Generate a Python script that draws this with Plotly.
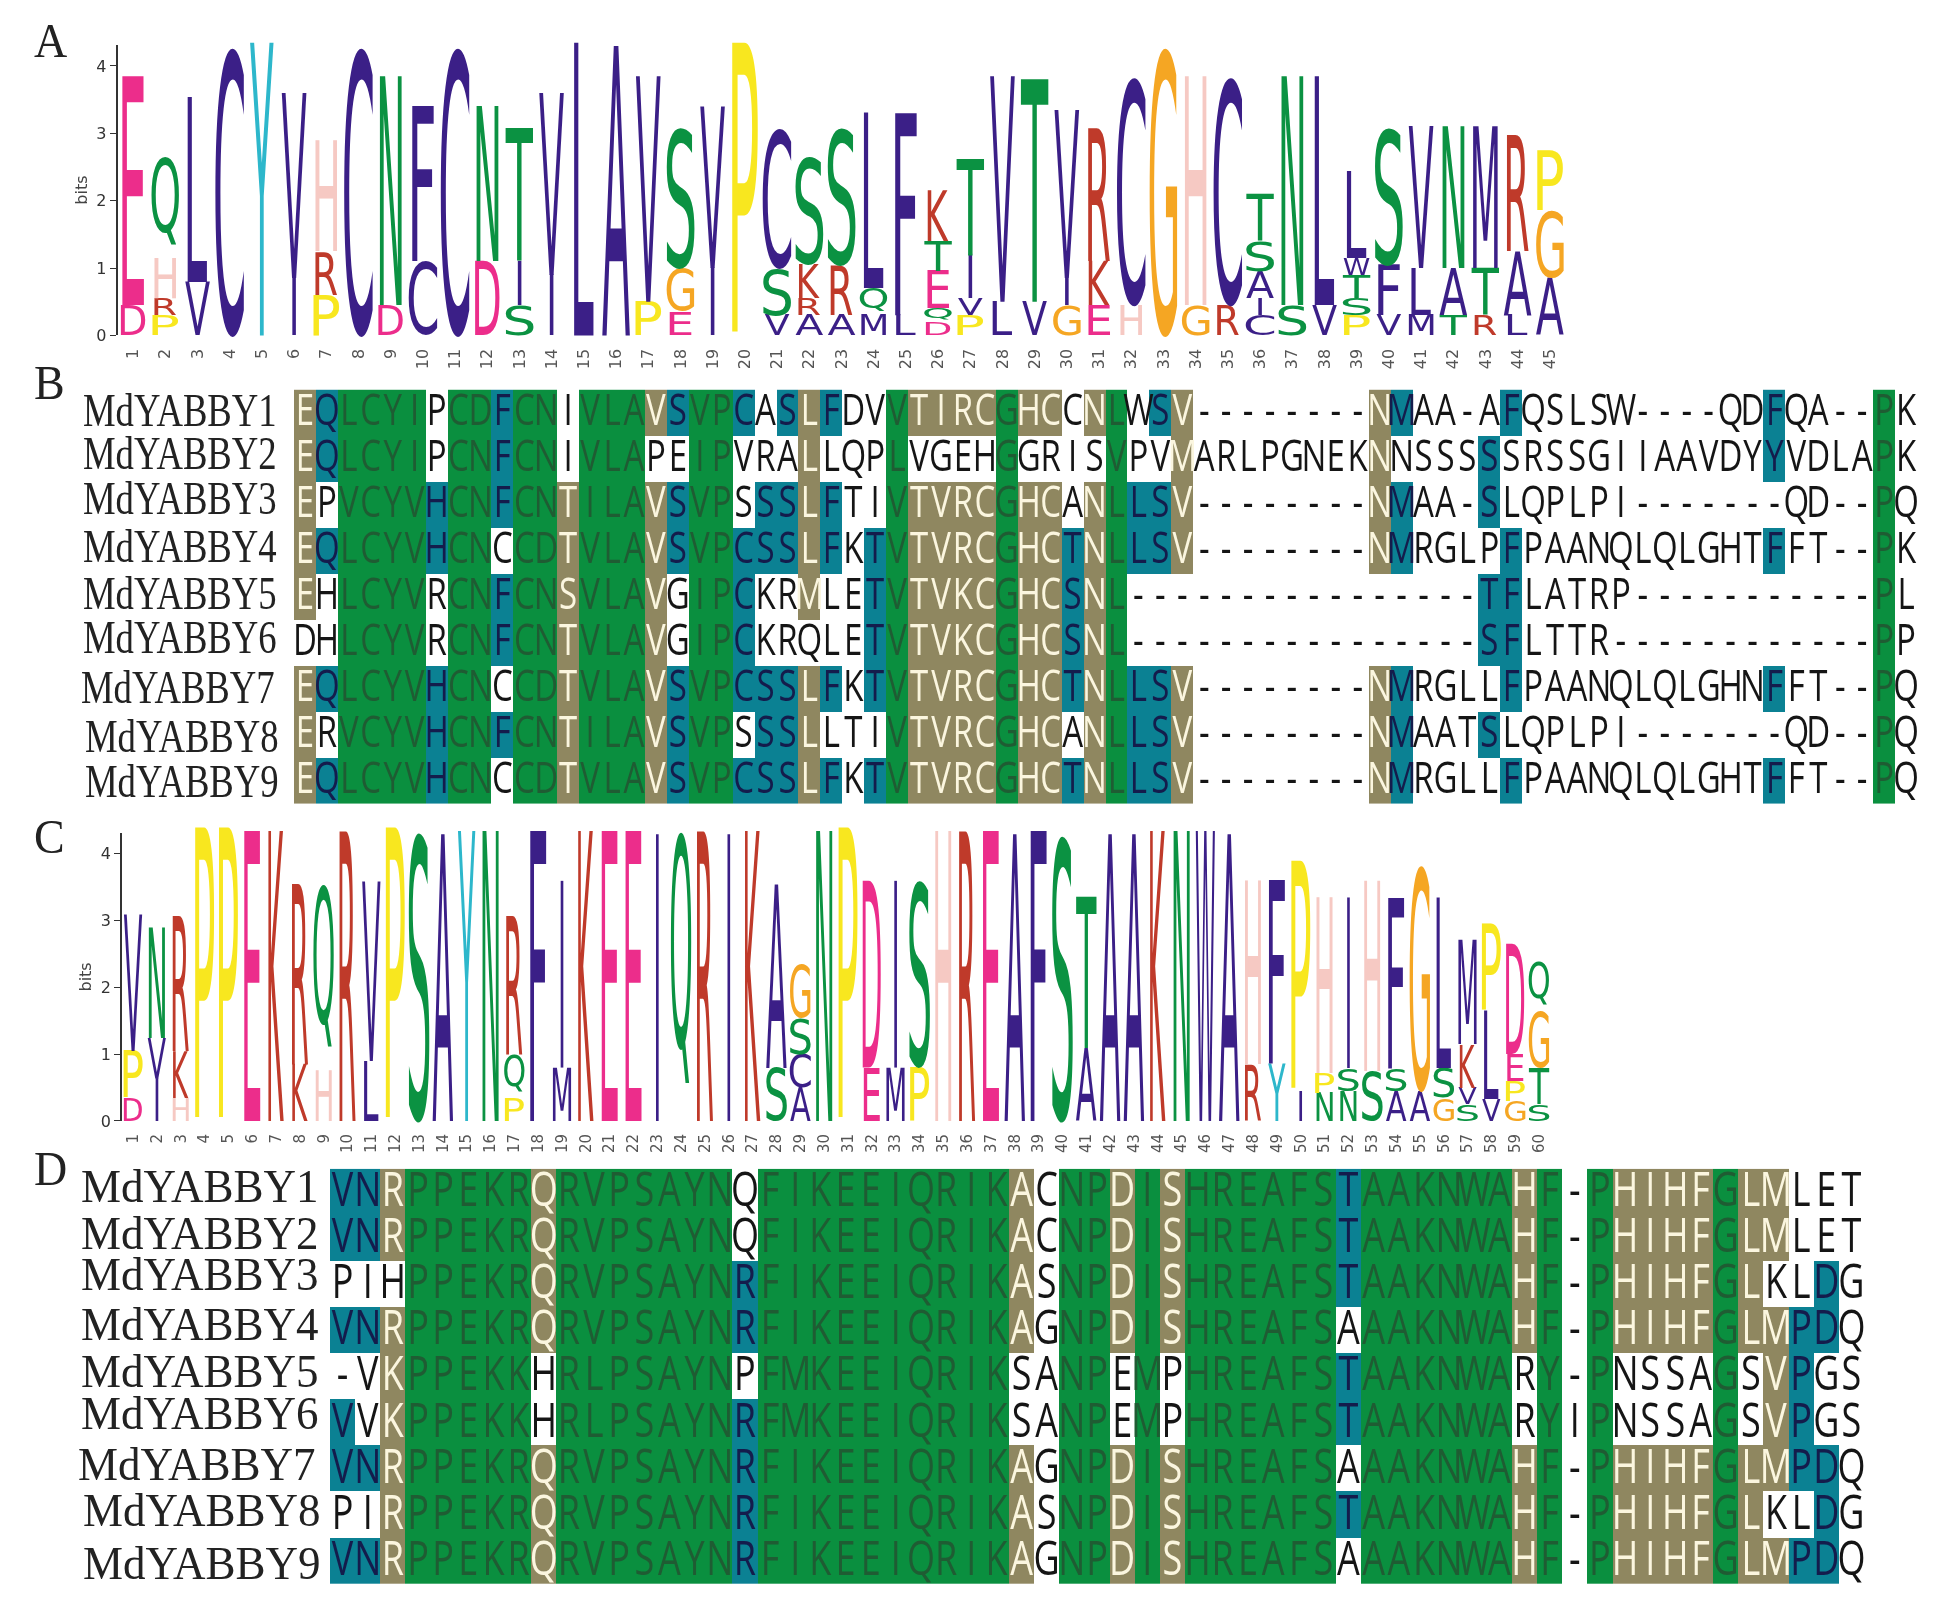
import plotly.graph_objects as go

W, H = 1938, 1611

LOGO_A = [
 [("D",.45),("E",3.4)], [("P",.3),("R",.25),("H",.6),("Q",1.5)], [("V",.8),("L",2.75)], [("C",4.3)], [("Y",4.35)],
 [("I",.85),("V",2.75)], [("P",.6),("R",.65),("H",1.65)], [("C",4.3)], [("D",.45),("N",3.4)], [("C",1.1),("F",2.3)],
 [("C",4.3)], [("D",1.1),("N",2.3)], [("S",.45),("I",.65),("T",2.0)], [("I",.9),("V",2.7)], [("L",4.35)],
 [("A",4.3)], [("P",.5),("V",3.35)], [("E",.35),("G",.65),("S",2.1)], [("I",1.0),("V",2.4)], [("P",4.35)],
 [("V",.3),("S",.7),("C",2.1)], [("A",.3),("R",.25),("K",.5),("S",1.6)], [("A",.3),("R",.75),("S",2.05)],
 [("M",.3),("Q",.4),("L",2.6)], [("L",.3),("F",3.0)], [("D",.2),("Q",.2),("E",.55),("T",.45),("K",.75)],
 [("P",.3),("V",.25),("I",.65),("T",1.45)], [("L",.5),("V",3.35)], [("V",.5),("T",3.35)], [("G",.45),("I",.4),("V",2.5)],
 [("E",.45),("K",.65),("R",2.0)], [("H",.45),("C",3.4)], [("G",4.3)], [("G",.45),("H",3.4)], [("R",.45),("C",3.4)],
 [("C",.3),("I",.25),("A",.4),("S",.45),("T",.7)], [("S",.45),("N",3.4)], [("V",.45),("L",3.4)],
 [("P",.3),("S",.25),("T",.35),("W",.25),("L",1.3)], [("V",.3),("F",.75),("S",2.05)], [("M",.3),("L",.7),("V",2.1)],
 [("T",.3),("A",.7),("N",2.1)], [("R",.3),("T",.7),("M",2.1)], [("L",.3),("A",.95),("R",1.75)], [("A",.85),("G",1.0),("P",.9)],
]
LOGO_C = [
 [("D",.35),("P",.7),("V",2.05)], [("I",.65),("V",.6),("N",1.65)], [("H",.35),("K",.7),("R",2.05)], [("P",4.4)], [("P",4.4)],
 [("E",4.35)], [("K",4.35)], [("K",.85),("R",2.75)], [("H",.75),("Q",2.8)], [("R",4.4)],
 [("L",.9),("V",2.7)], [("P",4.4)], [("S",4.35)], [("A",4.3)], [("Y",4.35)],
 [("N",4.35)], [("P",.35),("Q",.65),("R",2.1)], [("F",4.35)], [("M",.8),("I",2.8)], [("K",4.35)],
 [("E",4.35)], [("E",4.35)], [("I",4.3)], [("Q",4.35)], [("R",4.4)],
 [("I",4.3)], [("K",4.35)], [("S",.8),("A",2.75)], [("A",.5),("C",.5),("S",.55),("G",.8)], [("N",4.35)],
 [("P",4.4)], [("E",.8),("D",2.8)], [("M",.8),("I",2.8)], [("P",.8),("S",2.8)], [("H",4.35)],
 [("R",4.4)], [("E",4.35)], [("A",4.3)], [("F",4.35)], [("S",4.3)],
 [("A",1.1),("T",2.3)], [("A",4.3)], [("A",4.3)], [("K",4.35)], [("N",4.35)],
 [("W",4.35)], [("A",4.3)], [("R",.85),("H",2.75)], [("Y",.85),("F",2.75)], [("I",.45),("P",3.45)],
 [("N",.42),("P",.3),("H",2.63)], [("N",.45),("S",.35),("I",2.55)], [("S",.75),("H",2.85)], [("A",.45),("S",.35),("F",2.55)], [("A",.45),("G",3.4)],
 [("G",.35),("S",.45),("L",2.55)], [("S",.25),("V",.25),("K",.65),("M",1.55)], [("V",.33),("L",1.32),("P",1.3)],
 [("G",.3),("P",.3),("E",.4),("D",1.65)], [("S",.25),("T",.55),("G",.85),("Q",.75)],
]
LOGO_A_TICKS = list(range(1, 46))
LOGO_C_TICKS = list(range(1, 61))
BIT_TICKS = [0, 1, 2, 3, 4]

NAMES = ["MdYABBY1","MdYABBY2","MdYABBY3","MdYABBY4","MdYABBY5","MdYABBY6","MdYABBY7","MdYABBY8","MdYABBY9"]
PANELS = ["A", "B", "C", "D"]

SEQ_B = [
 "EQLCYIPCDFCNIVLAVSVPCASLFDVVTIRCGHCCNLWSV--------NMAA-AFQSLSW----QDFQA--PK",
 "EQLCYIPCNFCNIVLAPEIPVRALLQPLVGEHGGRISVPVMARLPGNEKNNSSSSSRSSGIIAAVDYYVDLAPK",
 "EPVCYVHCNFCNTILAVSVPSSSLFTIVTVRCGHCANLLSV--------NMAA-SLQPLPI-------QD--PQ",
 "EQLCYVHCNCCDTVLAVSVPCSSLFKTVTVRCGHCTNLLSV--------NMRGLPFPAANQLQLGHTFFT--PK",
 "EHLCYVRCNFCNSVLAVGIPCKRMLETVTVKCGHCSNL----------------TFLATRP-----------PL",
 "DHLCYVRCNFCNTVLAVGIPCKRQLETVTVKCGHCSNL----------------SFLTTR------------PP",
 "EQLCYVHCNCCDTVLAVSVPCSSLFKTVTVRCGHCTNLLSV--------NMRGLLFPAANQLQLGHNFFT--PQ",
 "ERVCYVHCNFCNTILAVSVPSSSLLTIVTVRCGHCANLLSV--------NMAATSLQPLPI-------QD--PQ",
 "EQLCYVHCNCCDTVLAVSVPCSSLFKTVTVRCGHCTNLLSV--------NMRGLLFPAANQLQLGHTFFT--PQ",
]
SEQ_D = [
 "VNRPPEKRQRVPSAYNQFIKEEIQRIKACNPDISHREAFSTAAKNWAHF-PHIHFGLMLET",
 "VNRPPEKRQRVPSAYNQFIKEEIQRIKACNPDISHREAFSTAAKNWAHF-PHIHFGLMLET",
 "PIHPPEKRQRVPSAYNRFIKEEIQRIKASNPDISHREAFSTAAKNWAHF-PHIHFGLKLDG",
 "VNRPPEKRQRVPSAYNRFIKEEIQRIKAGNPDISHREAFSAAAKNWAHF-PHIHFGLMPDQ",
 "-VKPPEKKHRLPSAYNPFMKEEIQRIKSANPEMPHREAFSTAAKNWARY-PNSSAGSVPGS",
 "VVKPPEKKHRLPSAYNRFMKEEIQRIKSANPEMPHREAFSTAAKNWARYIPNSSAGSVPGS",
 "VNRPPEKRQRVPSAYNRFIKEEIQRIKAGNPDISHREAFSAAAKNWAHF-PHIHFGLMPDQ",
 "PIRPPEKRQRVPSAYNRFIKEEIQRIKASNPDISHREAFSTAAKNWAHF-PHIHFGLKLDG",
 "VNRPPEKRQRVPSAYNRFIKEEIQRIKAGNPDISHREAFSAAAKNWAHF-PHIHFGLMPDQ",
]

# conservation class per alignment column, one digit per row: 0 none, 1 partial, 2 high, 3 identical
ALL = "333333333"
KH = "111100111"
SHADE_B = {1:"111110111",2:"220200202",3:ALL,4:ALL,5:ALL,6:ALL,7:"002200222",8:ALL,9:ALL,10:"222022020",11:ALL,12:ALL,
 13:"001111111",14:ALL,15:ALL,16:ALL,17:"101111111",18:"202200222",19:ALL,20:ALL,21:"200222202",22:"002200222",23:"202200222",
 24:"111110111",25:"202200202",27:"000222202",28:ALL,29:"101111111",30:"101111111",31:"101111111",32:"101111111",33:ALL,
 34:"101111111",35:"101111111",36:"000222202",37:"101111111",38:ALL,39:"002200222",40:"202200222",41:KH,50:KH,51:"202200222",
 55:"022022020",56:"200222202",68:"220200202",73:ALL}
SHADE_D = {1:"220202202",2:"220200202",3:"110111111",4:ALL,5:ALL,6:ALL,7:ALL,8:ALL,9:KH,10:ALL,11:ALL,12:ALL,13:ALL,14:ALL,15:ALL,16:ALL,
 17:"002202222",18:ALL,19:ALL,20:ALL,21:ALL,22:ALL,23:ALL,24:ALL,25:ALL,26:ALL,27:ALL,28:KH,30:ALL,31:ALL,32:KH,33:ALL,34:KH,
 35:ALL,36:ALL,37:ALL,38:ALL,39:ALL,40:ALL,41:"222022020",42:ALL,43:ALL,44:ALL,45:ALL,46:ALL,47:ALL,48:KH,49:ALL,51:ALL,
 52:KH,53:KH,54:KH,55:KH,56:ALL,57:KH,58:"110111101",59:"000222202",60:"002200222"}

# ---- styles
INDIGO, GREEN_L, PINK, RED = "#3b1f87", "#0b9242", "#ec2d8b", "#bf3a2a"
LETTER_COLORS = {"A":INDIGO,"C":INDIGO,"F":INDIGO,"I":INDIGO,"L":INDIGO,"M":INDIGO,"V":INDIGO,"W":INDIGO,
 "D":PINK,"E":PINK,"H":"#f6c9c3","K":RED,"R":RED,"P":"#f8e71f","G":"#f5a623","Y":"#2db7cb",
 "N":GREEN_L,"Q":GREEN_L,"S":GREEN_L,"T":GREEN_L}
GLYPH_WIDTHS = {"A":28,"C":29,"D":25,"E":22,"F":22,"G":28,"H":22,"I":4,"K":21,"L":20,"M":25,"N":22,"P":26,"Q":28,"R":22,"S":28,"T":28,"V":25,"W":26,"Y":24}
CELL_COLORS = ["#ffffff", "#8f8760", "#0b8193", "#0a8f3f"]
TEXT_COLORS = ["#151515", "#fbf6df", "#141c4c", "#1f5c33"]

def dom_x(a, b): return [a / W, b / W]
def dom_y(top, bot): return [1 - bot / H, 1 - top / H]

fig = go.Figure()

def logo(stacks, xa):
    x, y, txt, col, box = [], [], [], [], []
    for p, stack in enumerate(stacks, 1):
        base = 0.0
        for ch, h in stack:
            x.append(p); y.append(base + h / 2); txt.append(ch); col.append(LETTER_COLORS[ch]); box.append([base, base + h])
            base += h
    scale = 1.0 if xa == "x" else 0.74
    fig.add_trace(go.Scatter(x=x, y=y, text=txt, customdata=box, mode="text", xaxis=xa, yaxis=xa.replace("x", "y"),
        textfont=dict(family="DejaVu Sans", size=100, color=col), cliponaxis=False, hoverinfo="skip", showlegend=False,
        meta=dict(stretch=dict(mode="fit", family="DejaVu Sans", size=100, widths=GLYPH_WIDTHS, scale=scale))))

def alignment(seqs, shade, xa, size, sy, dy):
    nc, nr = len(seqs[0]), len(seqs)
    z = [[int(shade.get(c + 1, "0" * nr)[r]) for c in range(nc)] for r in range(nr)]
    n = len(CELL_COLORS) - 1
    cs = [[i / n, c] for i, c in enumerate(CELL_COLORS)]
    fig.add_trace(go.Heatmap(z=z, x=list(range(1, nc + 1)), y=list(range(1, nr + 1)), xaxis=xa, yaxis=xa.replace("x", "y"),
        zmin=0, zmax=n, colorscale=cs, showscale=False, hoverinfo="skip"))
    x, y, txt, col = [], [], [], []
    for r, s in enumerate(seqs):
        for c, ch in enumerate(s):
            x.append(c + 1); y.append(r + 1); txt.append(ch); col.append(TEXT_COLORS[z[r][c]])
    fig.add_trace(go.Scatter(x=x, y=y, text=txt, mode="text", xaxis=xa, yaxis=xa.replace("x", "y"),
        textfont=dict(family="Open Sans", size=size, color=col), cliponaxis=False, hoverinfo="skip", showlegend=False,
        meta=dict(stretch=dict(mode="anchor", sy=sy, dy=dy, anchor="middle"))))

logo(LOGO_A, "x")
logo(LOGO_C, "x2")
alignment(SEQ_B, SHADE_B, "x3", 33, 1.35, 12)
alignment(SEQ_D, SHADE_D, "x4", 36, 1.3, 14)

# sequence names and panel letters, on a full-figure axis pair measured in picture pixels
BX = [83, 83, 83, 83, 83, 83, 81, 85, 85]
BY = [429, 472, 517.5, 566, 613, 657, 707, 757, 802]
DX = [81, 81, 81, 81, 81, 81, 78, 83, 83]
DY = [1209, 1257, 1298, 1348, 1396, 1438, 1489, 1535.5, 1589]
for xs, ys, size, sy in ((BX, BY, 36.7, 1.25), (DX, DY, 45, 1.03)):
    fig.add_trace(go.Scatter(x=xs, y=ys, text=NAMES, mode="text", xaxis="x5", yaxis="y5",
        textfont=dict(family="Liberation Serif", size=size, color="#222222"), cliponaxis=False, hoverinfo="skip", showlegend=False,
        meta=dict(stretch=dict(mode="anchor", sy=sy, dy=0, anchor="start"))))
fig.add_trace(go.Scatter(x=[34, 34, 34, 34], y=[57, 401, 858, 1192], text=PANELS, mode="text", xaxis="x5", yaxis="y5",
    textfont=dict(family="Liberation Serif", size=46, color="#222222"), cliponaxis=False, hoverinfo="skip", showlegend=False,
    meta=dict(stretch=dict(mode="anchor", sy=1.05, dy=0, anchor="start"))))

def logo_axes(n, left, right, p1, step, y0, ytop, per_bit, ticks, tick_size):
    xk = "xaxis" if n == 1 else f"xaxis{n}"
    yk = "yaxis" if n == 1 else f"yaxis{n}"
    return {
        xk: dict(domain=dom_x(left, right), range=[1 + (left - p1) / step, 1 + (right - p1) / step], tickmode="array",
                 tickvals=ticks, ticktext=[str(t) for t in ticks], tickangle=-90, ticks="outside", ticklen=6, tickcolor="rgba(0,0,0,0)", showline=False, showgrid=False, zeroline=False,
                 tickfont=dict(family="DejaVu Sans", size=tick_size, color="#555555"), anchor=yk.replace("axis", ""), fixedrange=True),
        yk: dict(domain=dom_y(ytop, y0), range=[0, (y0 - ytop) / per_bit], tickmode="array", tickvals=BIT_TICKS,
                 ticks="outside", ticklen=6, tickcolor="#333333", showline=True, linecolor="#333333", linewidth=1.5, showgrid=False, zeroline=False,
                 tickfont=dict(family="DejaVu Sans", size=16, color="#333333"), title=dict(text="bits", standoff=5, font=dict(family="DejaVu Sans", size=16, color="#444444")),
                 anchor=xk.replace("axis", ""), fixedrange=True),
    }

def grid_axes(n, left, right, top, bot, nc, nr):
    hidden = dict(visible=False, showgrid=False, zeroline=False, fixedrange=True)
    return {
        f"xaxis{n}": dict(domain=dom_x(left, right), range=[0.5, nc + 0.5], anchor=f"y{n}", **hidden),
        f"yaxis{n}": dict(domain=dom_y(top, bot), range=[nr + 0.5, 0.5], anchor=f"x{n}", **hidden),
    }

layout = dict(width=W, height=H, autosize=False, margin=dict(l=0, r=0, t=0, b=0), paper_bgcolor="white", plot_bgcolor="rgba(0,0,0,0)", showlegend=False)
layout.update(logo_axes(1, 117.5, 1565, 133, 32.2, 337.5, 45, 67.8, LOGO_A_TICKS, 16))
layout.update(logo_axes(2, 122, 1565, 133, 23.83, 1128, 838, 67.2, LOGO_C_TICKS, 15))
layout.update(grid_axes(3, 294, 1917, 392, 809, len(SEQ_B[0]), len(SEQ_B)))
layout.update(grid_axes(4, 330, 1864, 1176, 1594, len(SEQ_D[0]), len(SEQ_D)))
layout.update(grid_axes(5, 0, W, 0, H, 1, 1))
layout["xaxis5"]["range"] = [0, W]
layout["yaxis5"]["range"] = [H, 0]
fig.update_layout(**layout)

STRETCH_JS = r"""
(function(){
 document.body.style.margin='0';
 var gd=document.getElementById('{plot_id}');
 var ctx=document.createElement('canvas').getContext('2d');
 function ink(ch,fam,size){ctx.font=size+'px "'+fam+'"';var m=ctx.measureText(ch);
   return {l:m.actualBoundingBoxLeft,r:m.actualBoundingBoxRight,a:m.actualBoundingBoxAscent,d:m.actualBoundingBoxDescent};}
 gd.calcdata.forEach(function(cd){
  var tr=cd[0].trace; if(!tr.meta||!tr.meta.stretch) return;
  var m=tr.meta.stretch;
  var xa=gd._fullLayout['xaxis'+tr.xaxis.slice(1)], ya=gd._fullLayout['yaxis'+tr.yaxis.slice(1)];
  cd[0].node3.selectAll('.textpoint').each(function(d){
    var t=this.querySelector('text'); if(!t) return;
    var i=d.i, ch=tr.text[i], x=xa.l2p(tr.x[i]), tf;
    this.removeAttribute('transform');
    t.textContent=ch; t.removeAttribute('dy'); t.setAttribute('x',0); t.setAttribute('y',0);
    if(m.mode==='fit'){
      var b=tr.customdata[i], y0=ya.l2p(b[0]), y1=ya.l2p(b[1]);
      if(ch==='Q') y0-=(y0-y1)*0.13;
      var g=ink(ch,m.family,m.size), w=m.widths[ch]*m.scale, h=y0-y1;
      var sx=w/(g.l+g.r), sy=h/(g.a+g.d);
      t.setAttribute('text-anchor','start');
      tf='translate('+(x-w/2+g.l*sx)+','+(y0-g.d*sy)+') scale('+sx+','+sy+')';
    } else {
      var y=ya.l2p(tr.y[i])+m.dy;
      t.setAttribute('text-anchor',m.anchor);
      tf='translate('+x+','+y+') scale(1,'+m.sy+')';
    }
    t.setAttribute('transform',tf);
  });
 });
 gd.style.filter='blur(0.6px)';
})();
"""
fig.write_html("out.html", post_script=STRETCH_JS, config=dict(displayModeBar=False))
